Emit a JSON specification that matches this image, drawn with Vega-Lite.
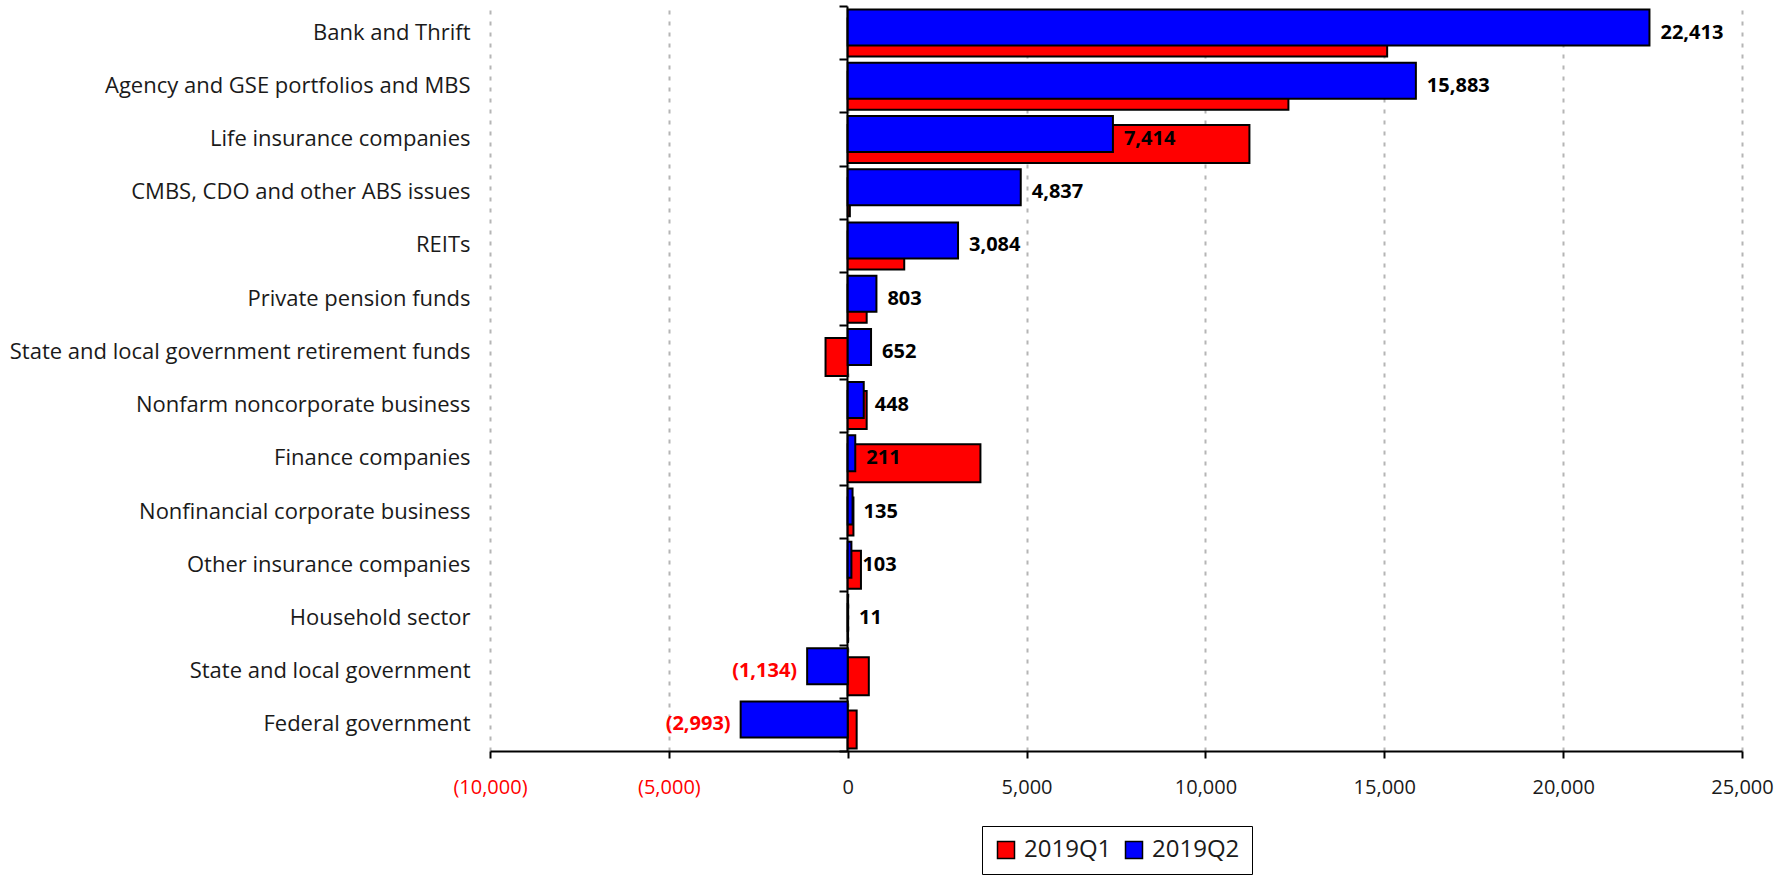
{
  "$schema": "https://vega.github.io/schema/vega-lite/v6.json",
  "autosize": "none",
  "width": 1252,
  "height": 745,
  "padding": {"left": 490, "top": 6, "right": 43, "bottom": 124},
  "config": {
    "font": "Open Sans",
    "view": {"stroke": null},
    "axis": {"labelColor": "#1a1a1a"}
  },
  "data": {
    "values": [
      {"category": "Bank and Thrift", "series": "2019Q1", "value": 15080},
      {"category": "Bank and Thrift", "series": "2019Q2", "value": 22413},
      {"category": "Agency and GSE portfolios and MBS", "series": "2019Q1", "value": 12320},
      {"category": "Agency and GSE portfolios and MBS", "series": "2019Q2", "value": 15883},
      {"category": "Life insurance companies", "series": "2019Q1", "value": 11230},
      {"category": "Life insurance companies", "series": "2019Q2", "value": 7414},
      {"category": "CMBS, CDO and other ABS issues", "series": "2019Q1", "value": 60},
      {"category": "CMBS, CDO and other ABS issues", "series": "2019Q2", "value": 4837},
      {"category": "REITs", "series": "2019Q1", "value": 1580},
      {"category": "REITs", "series": "2019Q2", "value": 3084},
      {"category": "Private pension funds", "series": "2019Q1", "value": 530},
      {"category": "Private pension funds", "series": "2019Q2", "value": 803},
      {"category": "State and local government retirement funds", "series": "2019Q1", "value": -620},
      {"category": "State and local government retirement funds", "series": "2019Q2", "value": 652},
      {"category": "Nonfarm noncorporate business", "series": "2019Q1", "value": 530},
      {"category": "Nonfarm noncorporate business", "series": "2019Q2", "value": 448},
      {"category": "Finance companies", "series": "2019Q1", "value": 3710},
      {"category": "Finance companies", "series": "2019Q2", "value": 211},
      {"category": "Nonfinancial corporate business", "series": "2019Q1", "value": 160},
      {"category": "Nonfinancial corporate business", "series": "2019Q2", "value": 135},
      {"category": "Other insurance companies", "series": "2019Q1", "value": 370},
      {"category": "Other insurance companies", "series": "2019Q2", "value": 103},
      {"category": "Household sector", "series": "2019Q1", "value": 10},
      {"category": "Household sector", "series": "2019Q2", "value": 11},
      {"category": "State and local government", "series": "2019Q1", "value": 590},
      {"category": "State and local government", "series": "2019Q2", "value": -1134},
      {"category": "Federal government", "series": "2019Q1", "value": 250},
      {"category": "Federal government", "series": "2019Q2", "value": -2993}
    ]
  },
  "encoding": {
    "x": {
      "field": "value",
      "type": "quantitative",
      "scale": {"domain": [-10000, 25000], "nice": false, "zero": false},
      "axis": {
        "title": null,
        "values": [-10000, -5000, 0, 5000, 10000, 15000, 20000, 25000],
        "labelExpr": "datum.value < 0 ? '(' + format(-datum.value, ',') + ')' : format(datum.value, ',')",
        "labelColor": {"condition": {"test": "datum.value < 0", "value": "#ff0000"}, "value": "#1a1a1a"},
        "labelFontSize": 20,
        "labelFlush": false,
        "labelOverlap": false,
        "labelPadding": 19,
        "domainColor": "#000000",
        "domainWidth": 2,
        "tickColor": "#000000",
        "tickWidth": 2,
        "tickSize": 7,
        "grid": true,
        "gridColor": "#b5b5b5",
        "gridWidth": 2,
        "gridDash": [4, 7]
      }
    }
  },
  "resolve": {"axis": {"y": "independent"}},
  "layer": [
    {
      "transform": [{"filter": "datum.series === '2019Q1'"}],
      "mark": {"type": "bar", "height": 38, "yOffset": 5, "stroke": "#000000", "strokeWidth": 2},
      "encoding": {
        "y": {
          "field": "category",
          "type": "nominal",
          "sort": null,
          "scale": {"paddingInner": 0, "paddingOuter": 0},
          "axis": {
            "title": null,
            "orient": "left",
            "domain": false,
            "ticks": false,
            "labelFontSize": 22,
            "labelPadding": 20,
            "labelLimit": 600
          }
        },
        "color": {
          "datum": "2019Q1",
          "type": "nominal",
          "scale": {"domain": ["2019Q1", "2019Q2"], "range": ["#ff0000", "#0000ff"]},
          "legend": {
            "title": null,
            "orient": "none",
            "legendX": 492,
            "legendY": 820,
            "direction": "horizontal",
            "strokeColor": "#000000",
            "fillColor": "#ffffff",
            "padding": 12,
            "symbolType": "square",
            "symbolSize": 289,
            "symbolStrokeColor": "#000000",
            "symbolStrokeWidth": 1.5,
            "labelFontSize": 24,
            "labelColor": "#1a1a1a",
            "labelOffset": 6,
            "columnSpacing": 16,
            "encoding": {"legend": {"update": {"strokeWidth": {"value": 1.5}}}}
          }
        }
      }
    },
    {
      "transform": [{"filter": "datum.series === '2019Q2'"}],
      "mark": {"type": "bar", "height": 36, "yOffset": -5, "stroke": "#000000", "strokeWidth": 2},
      "encoding": {
        "y": {
          "field": "category",
          "type": "nominal",
          "sort": null,
          "axis": {
            "title": null,
            "orient": "left",
            "offset": -357,
            "labels": false,
            "domain": true,
            "domainColor": "#000000",
            "domainWidth": 2,
            "ticks": true,
            "tickBand": "extent",
            "tickColor": "#000000",
            "tickWidth": 2,
            "tickSize": 8,
            "grid": false
          }
        },
        "color": {"datum": "2019Q2", "type": "nominal"}
      }
    },
    {
      "transform": [{"filter": "datum.series === '2019Q2' && datum.value >= 0"}],
      "mark": {"type": "text", "align": "left", "baseline": "middle", "dx": 11, "fontSize": 20, "fontWeight": "bold", "color": "#000000"},
      "encoding": {
        "y": {"field": "category", "type": "nominal", "sort": null, "axis": null},
        "text": {"field": "value", "type": "quantitative", "format": ","}
      }
    },
    {
      "transform": [
        {"filter": "datum.series === '2019Q2' && datum.value < 0"},
        {"calculate": "'(' + format(-datum.value, ',') + ')'", "as": "label"}
      ],
      "mark": {"type": "text", "align": "right", "baseline": "middle", "dx": -10, "fontSize": 20, "fontWeight": "bold", "color": "#ff0000"},
      "encoding": {
        "y": {"field": "category", "type": "nominal", "sort": null, "axis": null},
        "text": {"field": "label", "type": "nominal"}
      }
    }
  ]
}
